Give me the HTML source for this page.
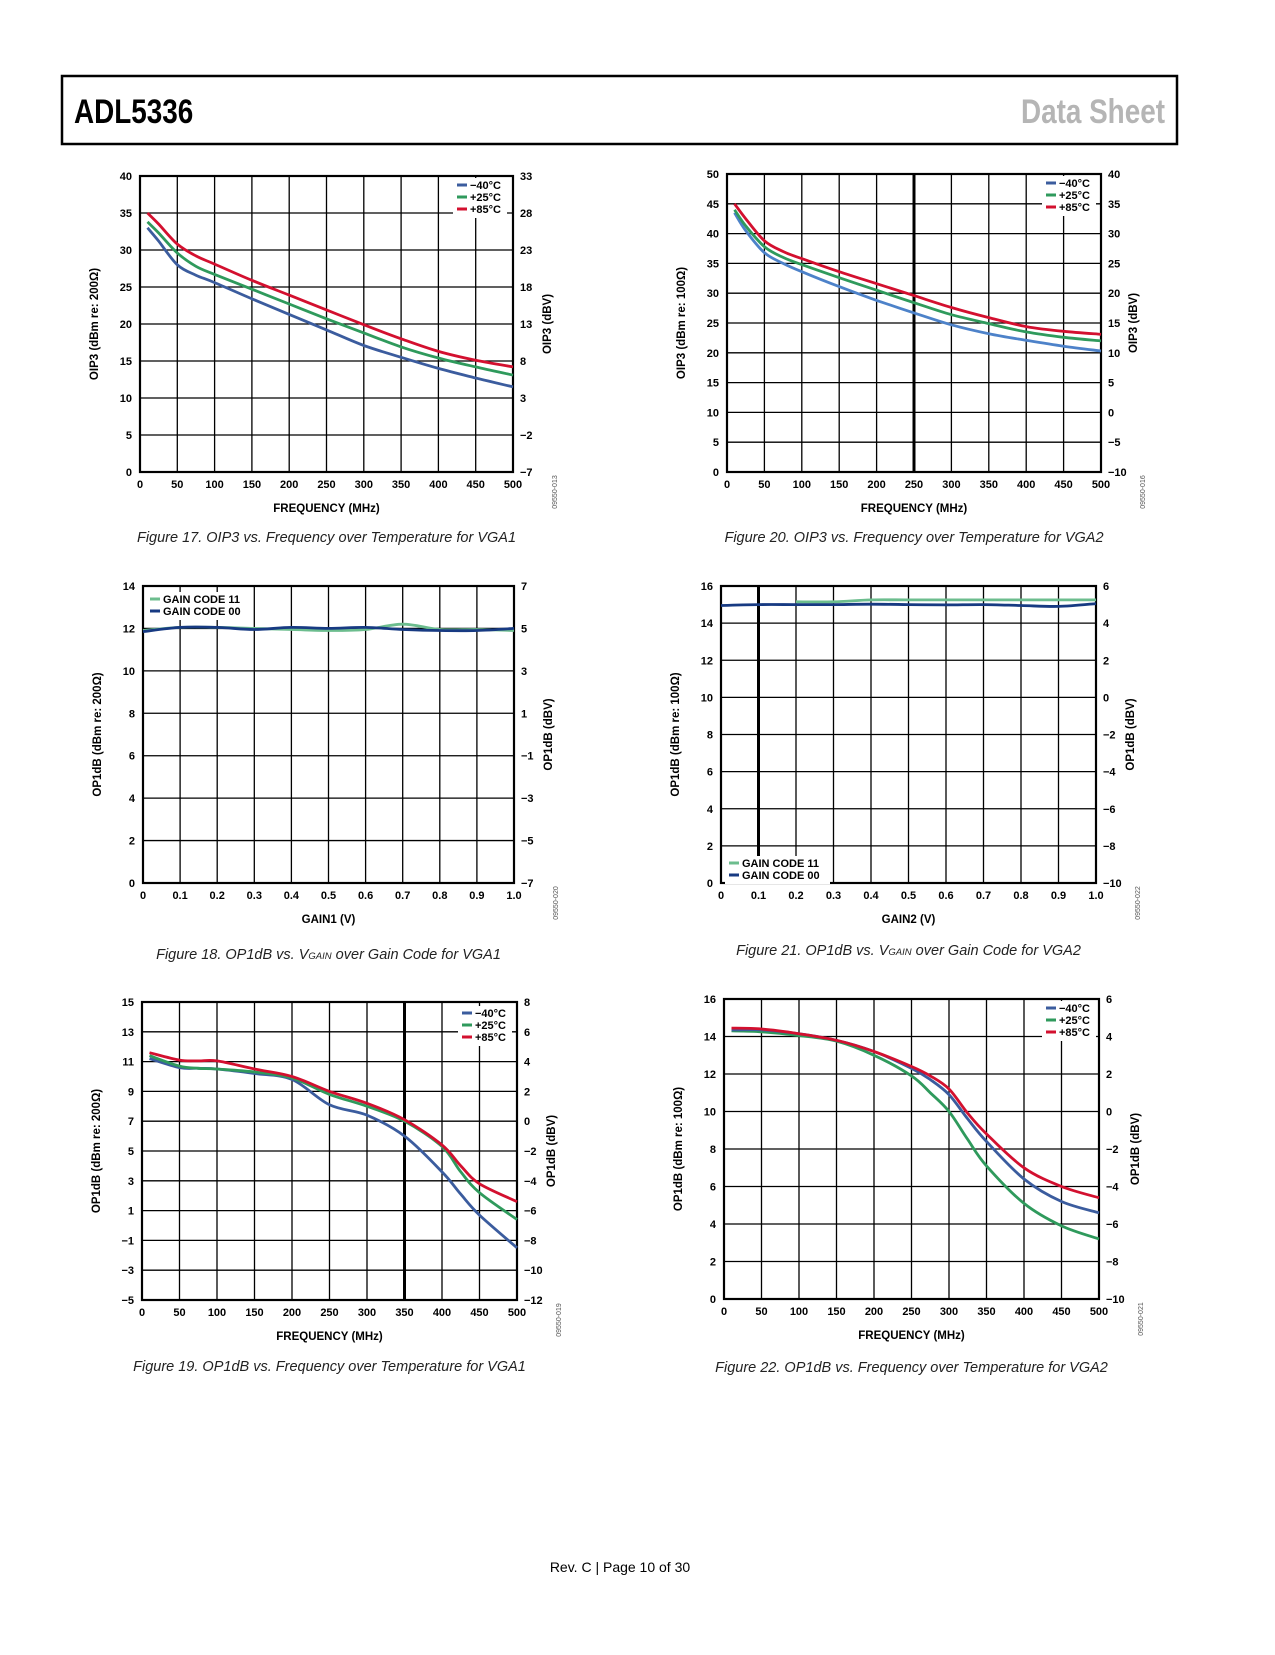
<!DOCTYPE html>
<html><head><meta charset="utf-8">
<style>
body{margin:0;background:#fff;}
#page{position:relative;width:1275px;height:1650px;background:#fff;font-family:"Liberation Sans",sans-serif;}
svg text{font-family:"Liberation Sans",sans-serif;}
</style></head>
<body>
<div id="page">
<svg id="svg" width="1275" height="1650" viewBox="0 0 1275 1650" xmlns="http://www.w3.org/2000/svg">
<rect x="62" y="76" width="1115" height="68" fill="none" stroke="#000" stroke-width="2.5"/>
<text x="74" y="123" font-size="34" font-weight="bold" transform="scale(0.82,1)" transform-origin="74 123">ADL5336</text>
<text x="1165" y="123" font-size="34" font-weight="bold" fill="#b5b5b5" text-anchor="end" transform="scale(0.82,1)" transform-origin="1165 123">Data Sheet</text>
<text x="620" y="1572" font-size="14" text-anchor="middle">Rev. C | Page 10 of 30</text>
</svg>
</div>
<script>
// ---- Figure 17 data ----
const f17X = [10,25,50,75,100,150,200,250,300,350,400,450,500];
const f17Red = [35,33.5,30.8,29.2,28.1,25.9,23.9,21.9,19.9,18.0,16.3,15.1,14.2];
const f17Green = [33.8,32.3,29.6,27.8,26.7,24.7,22.7,20.7,18.8,16.9,15.4,14.2,13.1];
const f17Blue = [33,31.2,28,26.6,25.6,23.4,21.3,19.2,17.1,15.5,14.0,12.7,11.5];
const f17LeftTicks = ["0","5","10","15","20","25","30","35","40"];
const f17RightTicks = ["−7","−2","3","8","13","18","23","28","33"];
// ---- Figure 20 data ----
const f20X = [10,25,50,75,100,150,200,250,300,350,400,450,500];
const f20Red = [45,42.5,38.8,37,35.8,33.6,31.6,29.6,27.6,25.9,24.4,23.6,23.1];
const f20Green = [44,41.3,37.8,36,34.8,32.6,30.5,28.4,26.4,24.9,23.5,22.6,22];
const f20Blue = [43.5,40.5,36.8,35,33.6,31.1,28.8,26.7,24.7,23.2,22.1,21.1,20.3];
const f20LeftTicks = ["0","5","10","15","20","25","30","35","40","45","50"];
const f20RightTicks = ["−10","−5","0","5","10","15","20","25","30","35","40"];
// ---- Figure 18 data ----
const f18X = [0,0.1,0.2,0.3,0.4,0.5,0.6,0.7,0.8,0.9,1.0];
const f18Code11 = [11.9,12.05,12.05,12.0,11.95,11.9,11.95,12.2,11.95,11.95,11.9];
const f18Code00 = [11.85,12.05,12.05,11.95,12.05,12.0,12.05,11.95,11.9,11.9,12.0];
const f18LeftTicks = ["0","2","4","6","8","10","12","14"];
const f18RightTicks = ["−7","−5","−3","−1","1","3","5","7"];
// ---- Figure 21 data ----
const f21X00 = [0,0.1,0.2,0.3,0.4,0.5,0.6,0.7,0.8,0.9,1.0];
const f21Code00 = [14.95,15.0,15.0,15.0,15.02,15.0,14.98,15.0,14.95,14.9,15.05];
const f21X11 = [0.2,0.3,0.4,0.5,0.6,0.7,0.8,0.9,1.0];
const f21Code11 = [15.15,15.15,15.25,15.25,15.25,15.25,15.25,15.25,15.25];
const f21LeftTicks = ["0","2","4","6","8","10","12","14","16"];
const f21RightTicks = ["−10","−8","−6","−4","−2","0","2","4","6"];
// ---- Figure 19 data ----
const f19X = [10,50,75,100,150,200,250,300,350,400,425,450,500];
const f19Red = [11.6,11.1,11.05,11.05,10.5,10.0,9.0,8.2,7.1,5.4,4.0,2.8,1.6];
const f19Green = [11.4,10.7,10.55,10.5,10.3,9.9,8.8,8.0,7.0,5.3,3.6,2.2,0.4];
const f19Blue = [11.2,10.6,10.55,10.5,10.2,9.8,8.1,7.4,6.0,3.6,2.1,0.7,-1.5];
const f19LeftTicks = ["−5","−3","−1","1","3","5","7","9","11","13","15"];
const f19RightTicks = ["−12","−10","−8","−6","−4","−2","0","2","4","6","8"];
// ---- Figure 22 data ----
const f22X = [10,50,100,150,200,250,275,300,325,350,400,450,500];
const f22Red = [14.45,14.4,14.15,13.8,13.2,12.4,11.9,11.2,9.9,8.8,7.0,6.0,5.4];
const f22Blue = [14.35,14.35,14.15,13.8,13.2,12.3,11.7,10.9,9.6,8.4,6.4,5.2,4.6];
const f22Green = [14.3,14.25,14.05,13.75,13.0,11.9,11.0,10.0,8.5,7.1,5.1,3.9,3.2];
const f22LeftTicks = ["0","2","4","6","8","10","12","14","16"];
const f22RightTicks = ["−10","−8","−6","−4","−2","0","2","4","6"];
const freqTicks = ["0","50","100","150","200","250","300","350","400","450","500"];
const gainTicks = ["0","0.1","0.2","0.3","0.4","0.5","0.6","0.7","0.8","0.9","1.0"];

const NS = "http://www.w3.org/2000/svg";
const svg = document.getElementById('svg');
function mk(tag, attrs, parent, txt){
  const e = document.createElementNS(NS, tag);
  for (const k in attrs) e.setAttribute(k, attrs[k]);
  if (txt !== undefined) e.textContent = txt;
  (parent || svg).appendChild(e);
  return e;
}
function smoothPath(pts){
  let d = "M" + pts[0][0].toFixed(1) + "," + pts[0][1].toFixed(1);
  for (let i = 0; i < pts.length - 1; i++){
    const p0 = pts[Math.max(0,i-1)], p1 = pts[i], p2 = pts[i+1], p3 = pts[Math.min(pts.length-1,i+2)];
    const c1x = p1[0] + (p2[0]-p0[0])/6, c1y = p1[1] + (p2[1]-p0[1])/6;
    const c2x = p2[0] - (p3[0]-p1[0])/6, c2y = p2[1] - (p3[1]-p1[1])/6;
    d += " C" + c1x.toFixed(1)+","+c1y.toFixed(1)+" "+c2x.toFixed(1)+","+c2y.toFixed(1)+" "+p2[0].toFixed(1)+","+p2[1].toFixed(1);
  }
  return d;
}

function chart(cfg){
  const g = mk('g', {});
  
  
  const L = cfg.L, R = cfg.R, T = cfg.T, B = cfg.B;
  const xs = v => L + (v - cfg.xmin) / (cfg.xmax - cfg.xmin) * (R - L);
  const ys = v => B - (v - cfg.ymin) / (cfg.ymax - cfg.ymin) * (B - T);
  const nx = cfg.xTicks.length - 1, ny = cfg.leftTicks.length - 1;
  for (let i = 1; i < nx; i++){
    const x = L + i * (R - L) / nx;
    const gl = mk('line', {x1:x, y1:T, x2:x, y2:B, stroke:'#000', 'stroke-width': i === cfg.thickX ? 3 : 1.3}, g);
    
    
  }
  for (let j = 1; j < ny; j++){
    const y = B - j * (B - T) / ny;
    const gl = mk('line', {x1:L, y1:y, x2:R, y2:y, stroke:'#000', 'stroke-width':1.3}, g);
    
    
  }
  const fr = mk('rect', {x:L, y:T, width:R-L, height:B-T, fill:'none', stroke:'#000', 'stroke-width':2.2}, g);
  
  
  cfg.xTicks.forEach((t, i) => {
    const tx = mk('text', {x: L + i*(R-L)/nx, y: B + 16, 'font-size':11, 'font-weight':'bold', 'text-anchor':'middle'}, g, t);
    
    
  });
  cfg.leftTicks.forEach((t, j) => {
    const tx = mk('text', {x: L - 8, y: B - j*(B-T)/ny + 4, 'font-size':11, 'font-weight':'bold', 'text-anchor':'end'}, g, t);
    
    
  });
  cfg.rightTicks.forEach((t, j) => {
    const tx = mk('text', {x: R + 7, y: B - j*(B-T)/ny + 4, 'font-size':11, 'font-weight':'bold', 'text-anchor':'start'}, g, t);
    
    
  });
  const xt = mk('text', {x:(L+R)/2, y:B+40, 'font-size':11.5, 'font-weight':'bold', 'text-anchor':'middle'}, g, cfg.xTitle);
  
  
  const ly = L - 42, my = (T+B)/2;
  const lt = mk('text', {x:ly, y:my, 'font-size':11.5, 'font-weight':'bold', 'text-anchor':'middle', transform:'rotate(-90 '+ly+' '+my+')'}, g, cfg.leftTitle);
  
  
  const ry = R + cfg.rtOff;
  const rt = mk('text', {x:ry, y:my, 'font-size':11.5, 'font-weight':'bold', 'text-anchor':'middle', transform:'rotate(-90 '+ry+' '+my+')'}, g, cfg.rightTitle);
  
  
  const idx = R + 44, idy = B + 20;
  const idt = mk('text', {x:idx, y:idy, 'font-size':7, fill:'#555', 'text-anchor':'middle', transform:'rotate(-90 '+idx+' '+idy+')'}, g, cfg.docId);
  
  
  cfg.series.forEach(s => {
    const pts = s.x.map((xv, i) => [xs(xv), ys(s.y[i])]);
    const p = mk('path', {d: smoothPath(pts), fill:'none', stroke:s.color, 'stroke-width':2.8, 'stroke-linejoin':'round'}, g);
    
    
  });
  const lg = mk('g', {}, g);
  
  
  const lx = cfg.legend.x, lyy = cfg.legend.y;
  const bg = mk('rect', {x:lx-4, y:lyy-10, width:cfg.legend.w, height:cfg.series.length*12+4, fill:'#fff'}, lg);
  
  
  cfg.legend.items.forEach((it, i) => {
    const sw = mk('line', {x1:lx, y1:lyy+i*12-3, x2:lx+10, y2:lyy+i*12-3, stroke:it.color, 'stroke-width':3}, lg);
    
    
    const tx = mk('text', {x:lx+13, y:lyy+i*12+1, 'font-size':11, 'font-weight':'bold'}, lg, it.label);
    
    
  });
  const cap = mk('text', {x:(L+R)/2, y:B+cfg.capOff, 'font-size':14.5, 'font-style':'italic', fill:'#222', 'text-anchor':'middle'}, g);
  
  
  cfg.caption.forEach(part => {
    mk('tspan', part.sub ? {'font-size':9.5} : {}, cap, part.t);
  });
}
const RED = '#d3102f', GRN = '#2f9a5c', BLU = '#3b5c9e', LBLU = '#4d82c9', LGRN = '#6cbd8e', NAVY = '#173a82';
const tempLegend = (c1) => [{label:'−40°C', color:c1},{label:'+25°C', color:GRN},{label:'+85°C', color:RED}];

chart({name:'figure-17-oip3-vga1', L:140, R:513, T:176, B:472, xmin:0, xmax:500, ymin:0, ymax:40, thickX:-1,
  xTicks:freqTicks, leftTicks:f17LeftTicks, rightTicks:f17RightTicks, rtOff:38,
  xTitle:'FREQUENCY (MHz)', leftTitle:'OIP3 (dBm re: 200Ω)', rightTitle:'OIP3 (dBV)', docId:'09550-013', capOff:70,
  series:[{name:'series-minus40c', x:f17X, y:f17Blue, color:BLU},{name:'series-plus25c', x:f17X, y:f17Green, color:GRN},{name:'series-plus85c', x:f17X, y:f17Red, color:RED}],
  legend:{x:457, y:188, w:54, items:tempLegend(BLU)},
  caption:[{t:'Figure 17. OIP3 vs. Frequency over Temperature for VGA1'}]});

chart({name:'figure-20-oip3-vga2', L:727, R:1101, T:174, B:472, xmin:0, xmax:500, ymin:0, ymax:50, thickX:5,
  xTicks:freqTicks, leftTicks:f20LeftTicks, rightTicks:f20RightTicks, rtOff:36,
  xTitle:'FREQUENCY (MHz)', leftTitle:'OIP3 (dBm re: 100Ω)', rightTitle:'OIP3 (dBV)', docId:'09550-016', capOff:70,
  series:[{name:'series-minus40c', x:f20X, y:f20Blue, color:LBLU},{name:'series-plus25c', x:f20X, y:f20Green, color:GRN},{name:'series-plus85c', x:f20X, y:f20Red, color:RED}],
  legend:{x:1046, y:186, w:54, items:tempLegend(BLU)},
  caption:[{t:'Figure 20. OIP3 vs. Frequency over Temperature for VGA2'}]});

chart({name:'figure-18-op1db-vga1', L:143, R:514, T:586, B:883, xmin:0, xmax:1, ymin:0, ymax:14, thickX:-1,
  xTicks:gainTicks, leftTicks:f18LeftTicks, rightTicks:f18RightTicks, rtOff:38,
  xTitle:'GAIN1 (V)', leftTitle:'OP1dB (dBm re: 200Ω)', rightTitle:'OP1dB (dBV)', docId:'09550-020', capOff:76,
  series:[{name:'series-gain-code-11', x:f18X, y:f18Code11, color:LGRN},{name:'series-gain-code-00', x:f18X, y:f18Code00, color:NAVY}],
  legend:{x:150, y:602, w:105, items:[{label:'GAIN CODE 11', color:LGRN},{label:'GAIN CODE 00', color:NAVY}]},
  caption:[{t:'Figure 18. OP1dB vs. V'},{t:'GAIN', sub:true},{t:' over Gain Code for VGA1'}]});

chart({name:'figure-21-op1db-vga2', L:721, R:1096, T:586, B:883, xmin:0, xmax:1, ymin:0, ymax:16, thickX:1,
  xTicks:gainTicks, leftTicks:f21LeftTicks, rightTicks:f21RightTicks, rtOff:38,
  xTitle:'GAIN2 (V)', leftTitle:'OP1dB (dBm re: 100Ω)', rightTitle:'OP1dB (dBV)', docId:'09550-022', capOff:72,
  series:[{name:'series-gain-code-11', x:f21X11, y:f21Code11, color:LGRN},{name:'series-gain-code-00', x:f21X00, y:f21Code00, color:NAVY}],
  legend:{x:729, y:866, w:105, items:[{label:'GAIN CODE 11', color:LGRN},{label:'GAIN CODE 00', color:NAVY}]},
  caption:[{t:'Figure 21. OP1dB vs. V'},{t:'GAIN', sub:true},{t:' over Gain Code for VGA2'}]});

chart({name:'figure-19-op1db-freq-vga1', L:142, R:517, T:1002, B:1300, xmin:0, xmax:500, ymin:-5, ymax:15, thickX:7,
  xTicks:freqTicks, leftTicks:f19LeftTicks, rightTicks:f19RightTicks, rtOff:38,
  xTitle:'FREQUENCY (MHz)', leftTitle:'OP1dB (dBm re: 200Ω)', rightTitle:'OP1dB (dBV)', docId:'09550-019', capOff:71,
  series:[{name:'series-minus40c', x:f19X, y:f19Blue, color:BLU},{name:'series-plus25c', x:f19X, y:f19Green, color:GRN},{name:'series-plus85c', x:f19X, y:f19Red, color:RED}],
  legend:{x:462, y:1016, w:54, items:tempLegend(BLU)},
  caption:[{t:'Figure 19. OP1dB vs. Frequency over Temperature for VGA1'}]});

chart({name:'figure-22-op1db-freq-vga2', L:724, R:1099, T:999, B:1299, xmin:0, xmax:500, ymin:0, ymax:16, thickX:-1,
  xTicks:freqTicks, leftTicks:f22LeftTicks, rightTicks:f22RightTicks, rtOff:40,
  xTitle:'FREQUENCY (MHz)', leftTitle:'OP1dB (dBm re: 100Ω)', rightTitle:'OP1dB (dBV)', docId:'09550-021', capOff:73,
  series:[{name:'series-plus25c', x:f22X, y:f22Green, color:GRN},{name:'series-minus40c', x:f22X, y:f22Blue, color:BLU},{name:'series-plus85c', x:f22X, y:f22Red, color:RED}],
  legend:{x:1046, y:1011, w:54, items:tempLegend(BLU)},
  caption:[{t:'Figure 22. OP1dB vs. Frequency over Temperature for VGA2'}]});
</script>
</body></html>
